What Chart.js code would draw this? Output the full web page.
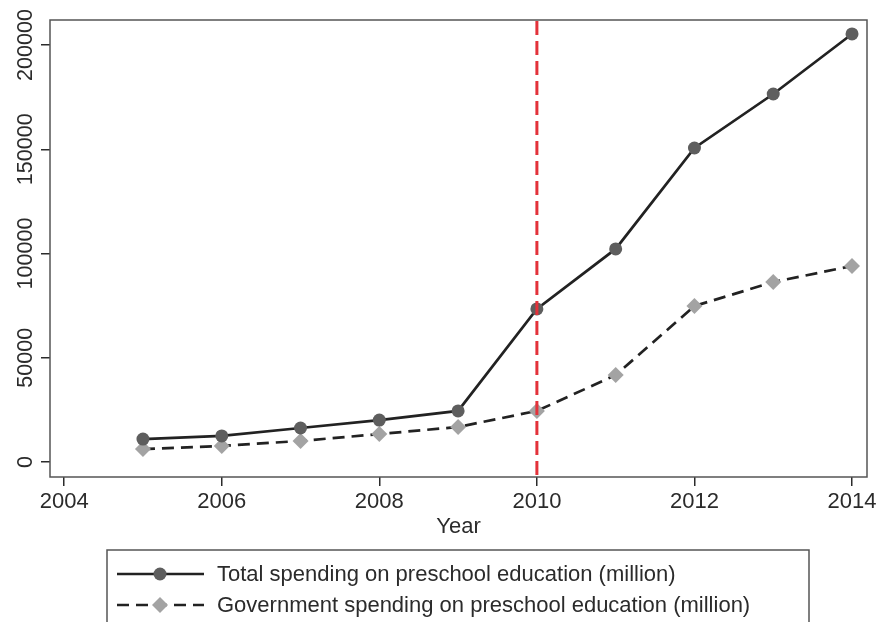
<!DOCTYPE html>
<html>
<head>
<meta charset="utf-8">
<title>Preschool education spending</title>
<script src="https://cdn.jsdelivr.net/npm/chart.js@4.4.1/dist/chart.umd.min.js"></script>
<style>
  html, body { margin: 0; padding: 0; background: #fff; }
  #wrap { width: 880px; height: 622px; position: relative; }
</style>
</head>
<body>
<div id="wrap"><canvas id="chart"></canvas></div>
<script>
const years = [2005, 2006, 2007, 2008, 2009, 2010, 2011, 2012, 2013, 2014];
const totalSpending = [11000, 12500, 16300, 20100, 24500, 73400, 102200, 150600, 176500, 205300];
const govSpending = [6200, 7700, 10100, 13400, 16800, 24500, 41700, 74800, 86300, 94000];
const xTicks = [2004, 2006, 2008, 2010, 2012, 2014];
const yTicks = [0, 50000, 100000, 150000, 200000];
const policyYear = 2010;

const FONT = '"Liberation Sans", Arial, Helvetica, sans-serif';
const INK = '#2b2b2b';

// frame around the plot area, the red policy line and the rotated y labels
const decorations = {
  id: 'decorations',
  afterDatasetsDraw(chart) {
    const { ctx, chartArea: a, scales } = chart;
    const x = scales.x.getPixelForValue(policyYear);
    ctx.save();
    ctx.strokeStyle = '#e3323a';
    ctx.lineWidth = 3;
    ctx.setLineDash([14, 6]);
    ctx.beginPath();
    ctx.moveTo(x, a.top + 1);
    ctx.lineTo(x, a.bottom);
    ctx.stroke();
    ctx.restore();
  },
  afterDraw(chart) {
    const { ctx, chartArea: a, scales } = chart;
    ctx.save();
    ctx.strokeStyle = '#555';
    ctx.lineWidth = 1.5;
    ctx.strokeRect(a.left, a.top, a.right - a.left, a.bottom - a.top);

    // y tick labels, turned on their side
    ctx.fillStyle = INK;
    ctx.font = '21.5px ' + FONT;
    ctx.textAlign = 'center';
    ctx.textBaseline = 'middle';
    scales.y.ticks.forEach(t => {
      const y = scales.y.getPixelForValue(t.value);
      ctx.save();
      ctx.translate(a.left - 24, y);
      ctx.rotate(-Math.PI / 2);
      ctx.fillText(String(t.value), 0, 0);
      ctx.restore();
    });

    // legend box below the axis
    const box = { left: 107, top: 550, right: 809, bottom: 640 };
    ctx.strokeStyle = '#555';
    ctx.lineWidth = 1.5;
    ctx.strokeRect(box.left, box.top, box.right - box.left, box.bottom - box.top);
    ctx.font = '22px ' + FONT;
    ctx.textAlign = 'left';
    chart.data.datasets.forEach((ds, i) => {
      const y = 574 + i * 31;
      ctx.strokeStyle = ds.borderColor;
      ctx.lineWidth = ds.borderWidth;
      ctx.setLineDash(ds.borderDash || []);
      ctx.beginPath();
      ctx.moveTo(117, y);
      ctx.lineTo(204, y);
      ctx.stroke();
      ctx.setLineDash([]);
      ctx.fillStyle = ds.pointBackgroundColor;
      ctx.beginPath();
      if (ds.pointStyle === 'rectRot') {
        const r = ds.pointRadius;
        ctx.moveTo(160, y - r);
        ctx.lineTo(160 + r, y);
        ctx.lineTo(160, y + r);
        ctx.lineTo(160 - r, y);
        ctx.closePath();
      } else {
        ctx.arc(160, y, ds.pointRadius, 0, Math.PI * 2);
      }
      ctx.fill();
      ctx.fillStyle = INK;
      ctx.fillText(ds.label, 217, y + 1);
    });
    ctx.restore();
  }
};

new Chart(document.getElementById('chart'), {
  type: 'line',
  data: {
    datasets: [
      {
        label: 'Total spending on preschool education (million)',
        data: years.map((yr, i) => ({ x: yr, y: totalSpending[i] })),
        borderColor: '#222',
        borderWidth: 2.7,
        pointStyle: 'circle',
        pointRadius: 6.5,
        pointBackgroundColor: '#5e5e5e',
        pointBorderWidth: 0,
        tension: 0
      },
      {
        label: 'Government spending on preschool education (million)',
        data: years.map((yr, i) => ({ x: yr, y: govSpending[i] })),
        borderColor: '#222',
        borderWidth: 2.7,
        borderDash: [12, 7],
        pointStyle: 'rectRot',
        pointRadius: 8,
        pointBackgroundColor: '#a3a3a3',
        pointBorderWidth: 0,
        tension: 0
      }
    ]
  },
  options: {
    responsive: true,
    maintainAspectRatio: false,
    animation: false,
    layout: { padding: { top: 20, right: 13, left: 0, bottom: 82 } },
    plugins: { legend: { display: false }, tooltip: { enabled: false } },
    scales: {
      x: {
        type: 'linear',
        min: 2003.82,
        max: 2014.19,
        afterBuildTicks: s => { s.ticks = xTicks.map(v => ({ value: v })); },
        afterFit: s => { s.height = 63; },
        border: { display: false },
        grid: { drawOnChartArea: false, drawTicks: true, tickLength: 9, color: INK, lineWidth: 1.5 },
        ticks: { color: INK, font: { family: FONT, size: 22 }, padding: 3, maxRotation: 0, callback: v => String(v) },
        title: { display: true, text: 'Year', color: INK, font: { family: FONT, size: 22 }, padding: { top: 0, bottom: 0 } }
      },
      y: {
        min: -7200,
        max: 212000,
        afterBuildTicks: s => { s.ticks = yTicks.map(v => ({ value: v })); },
        afterFit: s => { s.width = 50; },
        border: { display: false },
        grid: { drawOnChartArea: false, drawTicks: true, tickLength: 9, color: INK, lineWidth: 1.5 },
        ticks: { display: false }
      }
    }
  },
  plugins: [decorations]
});
</script>
</body>
</html>
